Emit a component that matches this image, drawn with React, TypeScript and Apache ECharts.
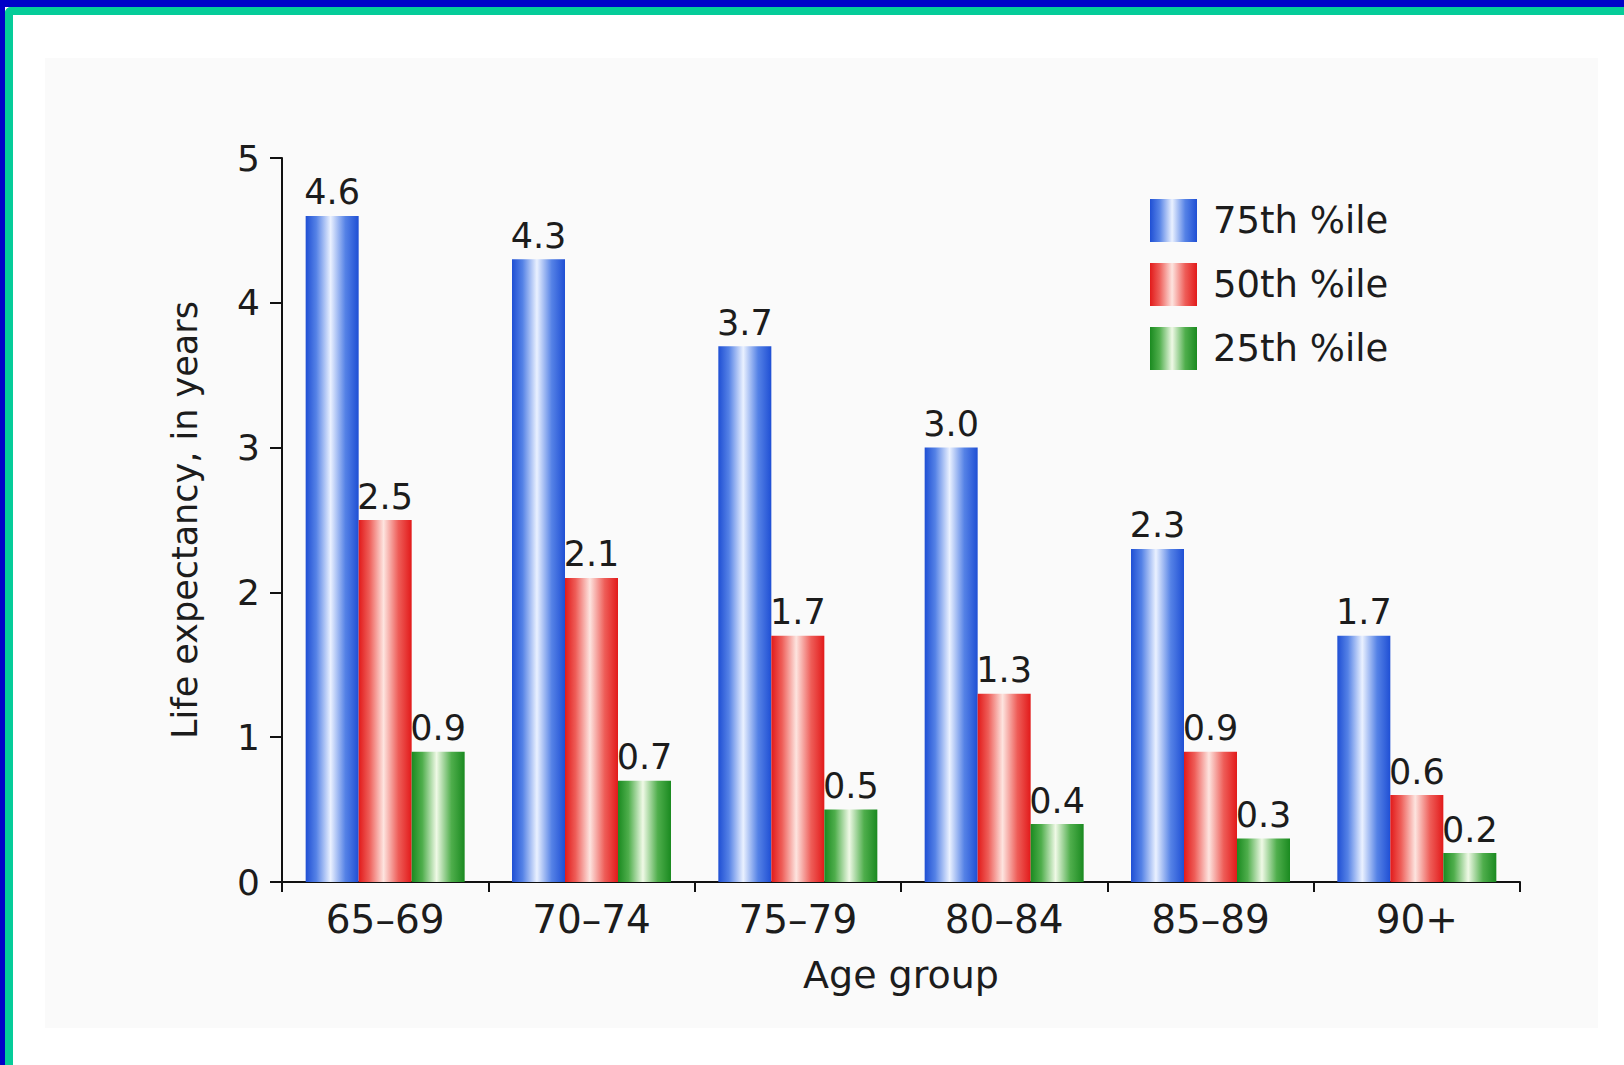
import React, { useEffect, useRef } from "react";
import * as echarts from "echarts";

// Age groups along the x axis
const ageGroups = ["65\u201369", "70\u201374", "75\u201379", "80\u201384", "85\u201389", "90+"];

// Remaining life expectancy (years) by health percentile
const p75 = [4.6, 4.3, 3.7, 3.0, 2.3, 1.7];
const p50 = [2.5, 2.1, 1.7, 1.3, 0.9, 0.6];
const p25 = [0.9, 0.7, 0.5, 0.4, 0.3, 0.2];

const seriesNames = ["75th %ile", "50th %ile", "25th %ile"];
const yTicks = { min: 0, max: 5, interval: 1 };

const FONT = "'DejaVu Sans', Arial, Helvetica, sans-serif";
const INK = "#1c1c1c";

// Horizontal "cylinder" shading for each bar colour
const tube = (edge: string, mid: string, core: string) =>
  new echarts.graphic.LinearGradient(0, 0, 1, 0, [
    { offset: 0, color: edge },
    { offset: 0.2, color: mid },
    { offset: 0.47, color: core },
    { offset: 0.75, color: mid },
    { offset: 1, color: edge },
  ]);

const blueFill = () => tube("#1f4fd4", "#5582e6", "#eaf1ff");
const redFill = () => tube("#e21a1a", "#ee5d58", "#fde4df");
const greenFill = () => tube("#1a8a20", "#4fae4c", "#eff9e6");

export default function App() {
  const ref = useRef<HTMLDivElement>(null);

  useEffect(() => {
    if (!ref.current) return;
    const chart = echarts.init(ref.current, undefined, { renderer: "svg" });

    const barLabel = {
      show: true,
      position: "top" as const,
      distance: 6,
      fontSize: 35,
      fontFamily: FONT,
      color: INK,
      formatter: (p: any) => Number(p.value).toFixed(1),
    };

    const makeSeries = (name: string, data: number[], fill: any) => ({
      name,
      type: "bar" as const,
      data,
      barWidth: 53,
      barGap: "0%",
      itemStyle: { color: fill },
      label: barLabel,
    });

    chart.setOption({
      animation: false,
      backgroundColor: "#ffffff",
      textStyle: { fontFamily: FONT, color: INK },
      graphic: [
        // panel behind the plot
        {
          type: "rect",
          z: -10,
          silent: true,
          shape: { x: 45, y: 58, width: 1553, height: 970 },
          style: { fill: "#fafafa" },
        },
        // frame stripes along the top and left edges
        { type: "rect", z: 100, silent: true, shape: { x: 0, y: 0, width: 1624, height: 7 }, style: { fill: "#0000c8" } },
        { type: "rect", z: 100, silent: true, shape: { x: 0, y: 0, width: 5, height: 1065 }, style: { fill: "#0000c8" } },
        { type: "rect", z: 100, silent: true, shape: { x: 5, y: 7, width: 1619, height: 8, r: [6, 0, 0, 0] }, style: { fill: "#05cc99" } },
        { type: "rect", z: 100, silent: true, shape: { x: 5, y: 7, width: 8, height: 1058, r: [6, 0, 0, 0] }, style: { fill: "#05cc99" } },
      ],
      legend: {
        orient: "vertical",
        left: 1150,
        top: 199,
        padding: 0,
        icon: "rect",
        itemWidth: 47,
        itemHeight: 43,
        itemGap: 21,
        data: seriesNames,
        textStyle: {
          fontSize: 37,
          fontFamily: FONT,
          color: INK,
          padding: [0, 0, 0, 11],
        },
      },
      grid: { left: 282, right: 104, top: 158, bottom: 183, containLabel: false },
      xAxis: {
        type: "category",
        data: ageGroups,
        name: "Age group",
        nameLocation: "middle",
        nameGap: 74,
        nameTextStyle: { fontSize: 38, fontFamily: FONT, color: INK },
        axisLine: { lineStyle: { color: "#111", width: 2 } },
        axisTick: { show: true, length: 10, alignWithLabel: false, lineStyle: { color: "#111", width: 2 } },
        axisLabel: { fontSize: 39, fontFamily: FONT, color: INK, margin: 18 },
        splitLine: { show: false },
      },
      yAxis: {
        type: "value",
        min: yTicks.min,
        max: yTicks.max,
        interval: yTicks.interval,
        name: "Life expectancy, in years",
        nameLocation: "middle",
        nameGap: 80,
        nameRotate: 90,
        nameTextStyle: { fontSize: 35, fontFamily: FONT, color: INK },
        axisLine: { show: true, lineStyle: { color: "#111", width: 2 } },
        axisTick: { show: true, length: 12, lineStyle: { color: "#111", width: 2 } },
        axisLabel: { fontSize: 36, fontFamily: FONT, color: INK, margin: 22 },
        splitLine: { show: false },
      },
      series: [
        makeSeries(seriesNames[0], p75, blueFill()),
        makeSeries(seriesNames[1], p50, redFill()),
        makeSeries(seriesNames[2], p25, greenFill()),
      ],
    });

    return () => chart.dispose();
  }, []);

  return (
    <div
      ref={ref}
      style={{ position: "fixed", left: 0, top: 0, width: 1624, height: 1065, background: "#fff" }}
    />
  );
}
